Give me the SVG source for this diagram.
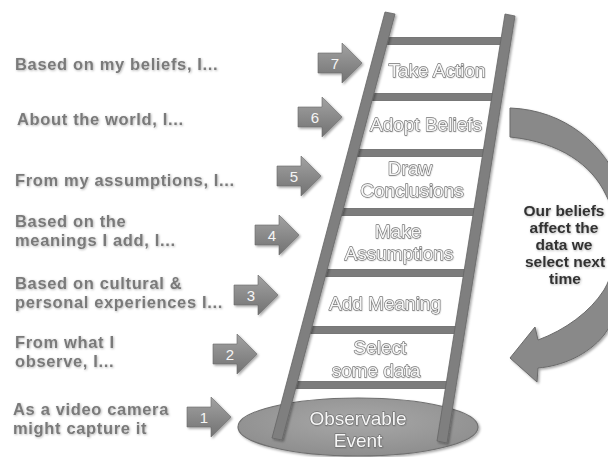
<svg xmlns="http://www.w3.org/2000/svg" width="608" height="457" viewBox="0 0 608 457">
<defs>
<linearGradient id="ag" x1="0" y1="0" x2="0" y2="1">
<stop offset="0" stop-color="#a2a2a2"/>
<stop offset="1" stop-color="#727272"/>
</linearGradient>
<radialGradient id="eg" cx="0.5" cy="0.4" r="0.6">
<stop offset="0" stop-color="#a8a8a8"/>
<stop offset="1" stop-color="#8e8e8e"/>
</radialGradient>
<filter id="sh" x="-20%" y="-20%" width="140%" height="140%">
<feDropShadow dx="1.5" dy="1.5" stdDeviation="1.3" flood-color="#000" flood-opacity="0.35"/>
</filter>
<filter id="tsh" x="-5%" y="-20%" width="110%" height="140%">
<feDropShadow dx="0.8" dy="0.8" stdDeviation="0.8" flood-color="#000" flood-opacity="0.3"/>
</filter>
<filter id="lsh" x="-5%" y="-20%" width="110%" height="140%">
<feDropShadow dx="0.6" dy="0.6" stdDeviation="0.6" flood-color="#000" flood-opacity="0.15"/>
</filter>
<path id="barrow" d="M0,0 H24 V-10 L44,10 L24,30 V20 H0 Z"/>
<style>
.lt{font-family:"Liberation Sans",Arial,sans-serif;font-weight:bold;font-size:16.5px;letter-spacing:0.65px;fill:#7a7a7a;filter:url(#tsh)}
.rt{font-family:"Liberation Sans",Arial,sans-serif;font-weight:bold;font-size:15.5px;fill:#333;text-anchor:middle;filter:url(#tsh)}
.st{font-family:"Liberation Sans",Arial,sans-serif;font-size:19px;fill:#f7f7f7;stroke:#747474;stroke-width:1.3px;paint-order:stroke;stroke-linejoin:round;text-anchor:middle;filter:url(#lsh)}
.num{font-family:"Liberation Sans",Arial,sans-serif;font-size:15px;fill:#f5f5f5;text-anchor:middle}
.ba{fill:url(#ag);stroke:#6a6a6a;stroke-width:0.6;filter:url(#sh)}
.rung{fill:#7c7c7c;stroke:#666;stroke-width:0.8}
.rail{fill:#7f7f7f;stroke:#666;stroke-width:0.8;filter:url(#sh)}
</style>
</defs>
<rect width="608" height="457" fill="#fff"/>

<!-- left labels -->
<g id="labels">
<text class="lt" x="15" y="70">Based on my beliefs, I...</text>
<text class="lt" x="17" y="125">About the world, I...</text>
<text class="lt" x="15" y="186">From my assumptions, I...</text>
<text class="lt" x="15" y="226.5">Based on the</text>
<text class="lt" x="15" y="245.5">meanings I add, I...</text>
<text class="lt" x="15" y="288.5">Based on cultural &amp;</text>
<text class="lt" x="15" y="307.5">personal experiences I...</text>
<text class="lt" x="15" y="347.5">From what I</text>
<text class="lt" x="15" y="366.5">observe, I...</text>
<text class="lt" x="13" y="414.5">As a video camera</text>
<text class="lt" x="13" y="433.5">might capture it</text>
</g>

<!-- observable event -->
<g id="event">
<ellipse cx="358" cy="427" rx="120" ry="29" fill="url(#eg)" stroke="#707070" stroke-width="1.2" filter="url(#sh)"/>
</g>

<!-- ladder -->
<g id="ladder">
<rect class="rung" x="382.6" y="37.5" width="123.3" height="7"/>
<rect class="rung" x="367.9" y="93.5" width="129" height="7"/>
<rect class="rung" x="353.6" y="149.5" width="134.4" height="7"/>
<rect class="rung" x="337.6" y="208.5" width="141" height="7"/>
<rect class="rung" x="321.5" y="269.5" width="147.4" height="7"/>
<rect class="rung" x="306.5" y="326.5" width="153.3" height="7"/>
<rect class="rung" x="292" y="381.5" width="159" height="7"/>
<polygon class="rail" points="385,12 395,14 282,440 272,438"/>
<polygon class="rail" points="505,14 515,16 447,443 437,441"/>
</g>

<g id="event-text">
<text class="st" x="358" y="425">Observable</text>
<text class="st" x="358" y="447">Event</text>
</g>

<g id="step7"><text class="st" x="437" y="77">Take Action</text></g>
<g id="step6"><text class="st" x="426" y="131">Adopt Beliefs</text></g>
<g id="step5"><text class="st" x="410" y="175">Draw</text><text class="st" x="412" y="197">Conclusions</text></g>
<g id="step4"><text class="st" x="398" y="238">Make</text><text class="st" x="399" y="260">Assumptions</text></g>
<g id="step3"><text class="st" x="385" y="310">Add Meaning</text></g>
<g id="step2"><text class="st" x="380" y="354">Select</text><text class="st" x="376" y="377">some data</text></g>

<!-- connectors -->
<g id="connectors">
<g id="arrow7"><use href="#barrow" class="ba" transform="translate(318,53)"/><text class="num" x="335" y="69">7</text></g>
<g id="arrow6"><use href="#barrow" class="ba" transform="translate(298,107)"/><text class="num" x="315" y="123">6</text></g>
<g id="arrow5"><use href="#barrow" class="ba" transform="translate(277,166)"/><text class="num" x="294" y="182">5</text></g>
<g id="arrow4"><use href="#barrow" class="ba" transform="translate(255,225)"/><text class="num" x="272" y="241">4</text></g>
<g id="arrow3"><use href="#barrow" class="ba" transform="translate(234,285)"/><text class="num" x="251" y="301">3</text></g>
<g id="arrow2"><use href="#barrow" class="ba" transform="translate(213,344)"/><text class="num" x="230" y="360">2</text></g>
<g id="arrow1"><use href="#barrow" class="ba" transform="translate(187,407)"/><text class="num" x="204" y="423">1</text></g>
<g id="feedback-arrow">
<path d="M510,108 C565,110 606,145 622,190 C640,240 630,300 604,335 C588,355 562,366 538,368 L537,382 L510,358 L535,327 L538,340 C565,330 590,312 604,290 C620,262 622,225 606,195 C592,165 560,142 510,137 Z" fill="#898989" stroke="#6a6a6a" stroke-width="1" filter="url(#sh)"/>
</g>
</g>

<g id="feedback-note">
<text class="rt" x="564" y="216">Our beliefs</text>
<text class="rt" x="564" y="233">affect the</text>
<text class="rt" x="564" y="250">data we</text>
<text class="rt" x="565" y="267">select next</text>
<text class="rt" x="565" y="284">time</text>
</g>
</svg>
